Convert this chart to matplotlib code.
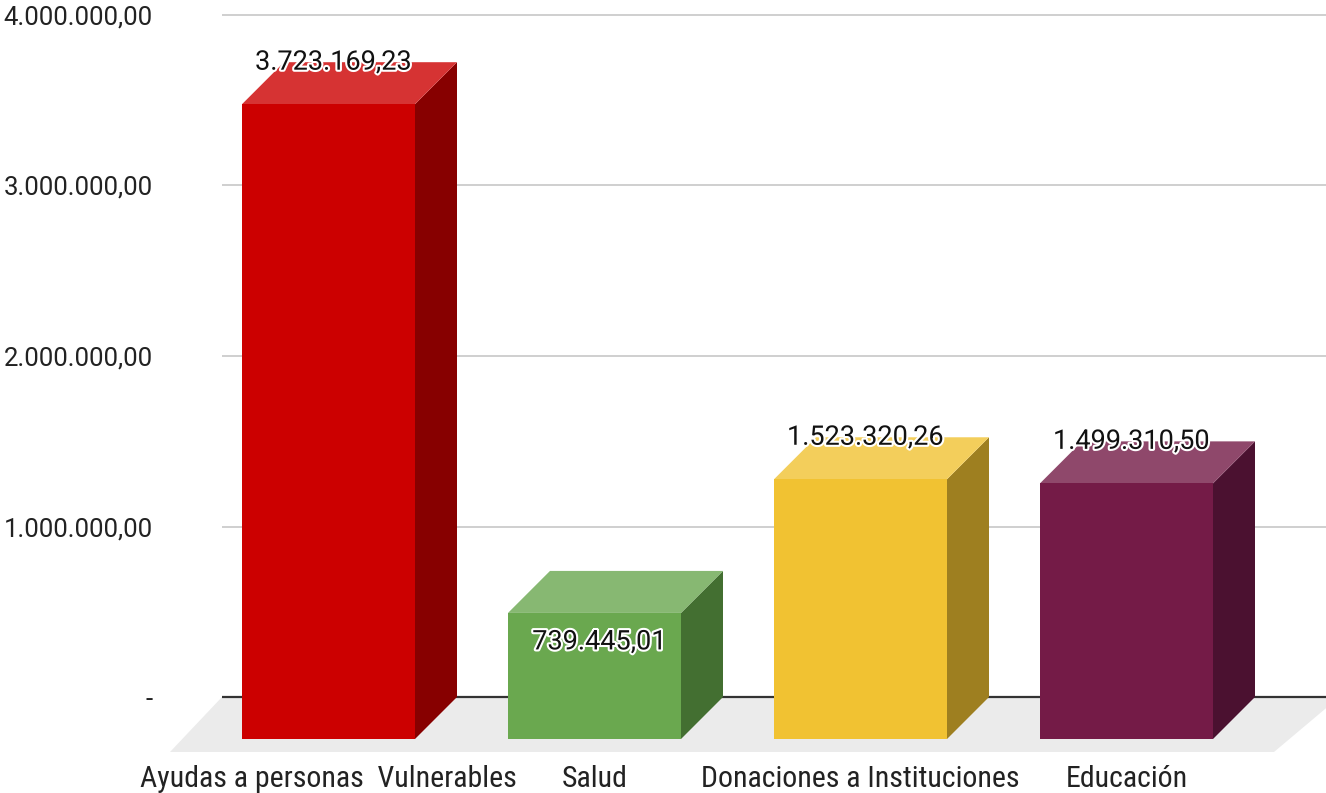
import matplotlib
matplotlib.use("Agg")
import matplotlib.pyplot as plt
from matplotlib.patches import Polygon
import matplotlib.patheffects as pe
from matplotlib import font_manager

categories = ["Ayudas a personas  Vulnerables", "Salud", "Donaciones a Instituciones", "Educación"]
values = [3723169.23, 739445.01, 1523320.26, 1499310.50]
label_inside = [False, True, False, False]
yticks = [0, 1000000, 2000000, 3000000, 4000000]

front_colors = ["#CC0000", "#6AA84F", "#F1C232", "#741B47"]
top_colors = ["#D63333", "#87B872", "#F3CE5B", "#8F486B"]
side_colors = ["#870000", "#436F31", "#9E7F20", "#4B1130"]


def fmt_es(v):
    if v == 0:
        return "-"
    s = f"{v:,.2f}"
    return s.replace(",", "X").replace(".", ",").replace("X", ".")


def find_condensed():
    prefs = ["liberationsansnarrow-regular", "opensans_condensed", "opensanscondensed",
             "robotocondensed-regular", "dejavusanscondensed.ttf"]
    files = [f.fname for f in font_manager.fontManager.ttflist]
    for p in prefs:
        for f in files:
            base = f.lower().replace("\\", "/").split("/")[-1].replace(" ", "")
            if base.startswith(p) or base == p:
                return f
    for f in files:
        base = f.lower().split("/")[-1]
        if ("narrow" in base or "condensed" in base) and "bold" not in base and "italic" not in base \
                and "oblique" not in base and "light" not in base:
            return f
    return None


cond = find_condensed()

W, H = 1326, 793
fig = plt.figure(figsize=(W / 100, H / 100), dpi=100)

px_per_unit_y = 170.5 / 1e6
spacing_px = 266.0
ax_left_px, ax_right_px = 222, 1326
ax_top_px, ax_bot_px = 10, 765
zero_px = 697

ax = fig.add_axes([ax_left_px / W, (H - ax_bot_px) / H,
                   (ax_right_px - ax_left_px) / W, (ax_bot_px - ax_top_px) / H])
ax.set_ylim(-(ax_bot_px - zero_px) / px_per_unit_y, (zero_px - ax_top_px) / px_per_unit_y)
x0 = -(370.5 - ax_left_px) / spacing_px
ax.set_xlim(x0, x0 + (ax_right_px - ax_left_px) / spacing_px)

depth_px = 42
dx = depth_px / spacing_px
dy = depth_px / px_per_unit_y
bw = 173 / spacing_px

for s in ax.spines.values():
    s.set_visible(False)

# floor
xl, xr = ax.get_xlim()
floor_front = -(752 - zero_px) / px_per_unit_y
fdx = 52 / spacing_px
ax.add_patch(Polygon([(xl, 0), (xr + 0.05, 0), (xr - fdx, floor_front), (xl - fdx, floor_front)],
                     closed=True, facecolor="#EBEBEB", edgecolor="none", clip_on=False, zorder=0))

# gridlines
for t in yticks[1:]:
    ax.axhline(t, color="#CCCCCC", lw=1.3, zorder=1)
ax.axhline(0, color="#333333", lw=1.6, zorder=2)

ax.set_yticks(yticks)
ax.set_yticklabels([fmt_es(t) for t in yticks], fontsize=18.5, family=["Roboto", "DejaVu Sans"], color="#222222")
ax.tick_params(axis="y", length=0, pad=50)

xpos = list(range(len(categories)))
for i, v in enumerate(values):
    bl, br = i - bw / 2, i + bw / 2
    ax.add_patch(Polygon([(br - dx, v - dy), (br, v), (br, 0), (br - dx, -dy)], closed=True,
                         facecolor=side_colors[i], edgecolor="none", zorder=3, clip_on=False))
    ax.add_patch(Polygon([(bl - dx, v - dy), (br - dx, v - dy), (br, v), (bl, v)], closed=True,
                         facecolor=top_colors[i], edgecolor="none", zorder=3, clip_on=False))
    ax.add_patch(Polygon([(bl - dx, -dy), (br - dx, -dy), (br - dx, v - dy), (bl - dx, v - dy)], closed=True,
                         facecolor=front_colors[i], edgecolor="none", zorder=4, clip_on=False))
    lx = i - dx + 5 / spacing_px
    ly = v - 71 / px_per_unit_y if label_inside[i] else v
    t = ax.text(lx, ly, fmt_es(v), ha="center", va="center", fontsize=19.5,
                family=["Roboto", "DejaVu Sans"], color="#111111", zorder=6)
    t.set_path_effects([pe.withStroke(linewidth=3, foreground="white")])

ax.set_xticks([i - dx for i in xpos])
if cond:
    fp = font_manager.FontProperties(fname=cond, size=21.5)
    ax.set_xticklabels(categories, fontproperties=fp, color="#222222")
else:
    ax.set_xticklabels(categories, fontsize=17, family=["DejaVu Sans"], color="#222222")
ax.tick_params(axis="x", length=0, pad=0)

fig.savefig("out.png", dpi=100)
